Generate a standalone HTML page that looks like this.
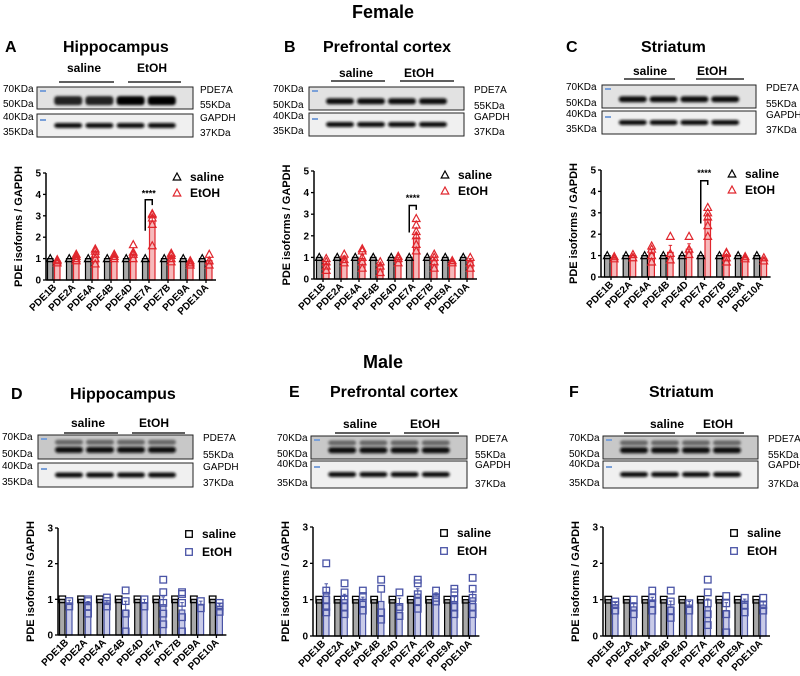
<!DOCTYPE html>
<html><head><meta charset="utf-8"><style>
body{margin:0;background:#fff;}
svg{display:block;font-family:"Liberation Sans",Arial,sans-serif;}
</style></head><body>
<svg id="fig" width="800" height="676" viewBox="0 0 800 676" xmlns="http://www.w3.org/2000/svg">
<defs><filter id="blur" x="-20%" y="-50%" width="140%" height="200%"><feGaussianBlur stdDeviation="1.3"/></filter></defs>
<text x="383" y="18" font-size="18" font-weight="bold" text-anchor="middle">Female</text>
<text x="383" y="368" font-size="18" font-weight="bold" text-anchor="middle">Male</text>
</svg>
<script>
// ---- data ----
const categories = ["PDE1B","PDE2A","PDE4A","PDE4B","PDE4D","PDE7A","PDE7B","PDE9A","PDE10A"];
const femaleTicks = [0,1,2,3,4,5];
const maleTicks = [0,1,2,3];
const salineMean = [1,1,1,1,1,1,1,1,1];
const etohMeanA = [0.9,1.05,1.2,1.1,1.2,2.75,1.05,0.85,0.9];
const etohMeanB = [0.7,0.95,0.95,0.6,0.9,1.9,0.85,0.8,0.8];
const etohMeanC = [0.88,1.0,1.1,1.15,1.3,2.7,0.95,0.9,0.85];
const etohMeanD = [0.9,0.85,0.9,0.7,0.9,0.85,0.7,0.85,0.8];
const etohMeanE = [1.2,1.0,0.95,0.95,0.85,1.15,1.1,0.95,1.05];
const etohMeanF = [0.85,0.8,0.95,0.8,0.85,0.8,0.7,0.9,0.85];
const etohPtsA = [[0.8,0.9,0.95],[0.9,1.1,1.2,1.0],[0.75,1.0,1.2,1.35,1.45],[1.0,1.2,1.1],[1.0,1.2,1.3,1.65],[1.6,2.6,2.9,3.05,3.1],[0.85,1.0,1.15,1.25],[0.7,0.8,0.9],[0.7,0.9,1.2]];
const etohPtsB = [[0.4,0.6,0.8,0.95],[0.75,0.9,1.15],[0.5,0.8,1.0,1.3,1.4],[0.3,0.6,0.8],[0.75,0.95,1.05],[1.3,1.6,2.0,2.2,2.5,2.8],[0.5,0.8,1.0,1.15],[0.75,0.85],[0.5,0.75,1.0]];
const etohPtsC = [[0.85,0.95],[0.9,1.05],[0.7,1.0,1.3,1.45],[0.8,1.1,1.9],[1.05,1.3,1.9],[1.9,2.4,2.8,3.0,3.25],[0.7,0.9,1.1,1.15],[0.85,0.95],[0.75,0.9]];
const etohPtsD = [[0.8,0.95],[0.6,0.8,0.95,1.0],[0.8,0.95,1.05],[0.1,0.6,0.95,1.25],[0.8,1.0],[0.3,0.6,0.9,1.2,1.55],[0.1,0.5,0.9,1.15,1.2],[0.75,0.95],[0.65,0.8,0.9]];
const etohPtsE = [[0.65,0.8,1.0,1.25,2.0],[0.6,0.8,1.0,1.2,1.45],[0.7,0.9,1.1,1.25],[0.45,0.65,1.3,1.55],[0.55,0.8,1.2],[0.75,0.95,1.15,1.45,1.55],[0.95,1.05,1.25],[0.6,0.8,1.0,1.2,1.3],[0.6,0.8,1.05,1.3,1.6]];
const etohPtsF = [[0.7,0.85,0.95],[0.6,0.8,1.0],[0.7,0.9,1.05,1.25],[0.5,0.7,0.95,1.25],[0.7,0.9],[0.3,0.6,0.9,1.2,1.55],[0.1,0.6,0.9,1.1],[0.65,0.85,1.05],[0.7,0.85,1.05]];
const sigBracket = {A:[2.3,3.75,3.5,4.1],B:[2.15,3.4,3.2,3.8],C:[2.5,4.5,4.3,4.9]};

const NS="http://www.w3.org/2000/svg";
const svg=document.getElementById('fig');
function mk(tag,attrs,parent,txt){const e=document.createElementNS(NS,tag);for(const k in attrs)e.setAttribute(k,attrs[k]);if(txt!==undefined)e.textContent=txt;(parent||svg).appendChild(e);return e;}

const panels=[
 {id:'A',region:'Hippocampus',female:true,letter:[5,52],title:[63,52],blot:{x1:37,x2:193,y1:87,y2:109,y3:114,y4:137,lx:3,rx:200,s:[67,59,114],e:[137,128,181],ly:72,lny:82},
  ch:{ax:46,top:173,bot:280,first:54,sp:19},mean:etohMeanA,pts:etohPtsA},
 {id:'B',region:'Prefrontal cortex',female:true,letter:[284,52],title:[323,52],blot:{x1:309,x2:464,y1:87,y2:110,y3:113,y4:136,lx:273,rx:474,s:[339,331,385],e:[404,400,454],ly:77,lny:81},
  ch:{ax:314,top:171,bot:279,first:323,sp:18},mean:etohMeanB,pts:etohPtsB},
 {id:'C',region:'Striatum',female:true,letter:[566,52],title:[641,52],blot:{x1:602,x2:756,y1:85,y2:108,y3:111,y4:134,lx:566,rx:766,s:[633,624,675],e:[697,696,744],ly:75,lny:79},
  ch:{ax:601,top:170,bot:277,first:611,sp:18.7},mean:etohMeanC,pts:etohPtsC},
 {id:'D',region:'Hippocampus',female:false,letter:[11,399],title:[70,399],blot:{x1:38,x2:193,y1:435,y2:459,y3:463,y4:487,lx:2,rx:203,s:[71,64,118],e:[139,132,185],ly:427,lny:433},
  ch:{ax:58,top:528,bot:635,first:66,sp:18.8},mean:etohMeanD,pts:etohPtsD},
 {id:'E',region:'Prefrontal cortex',female:false,letter:[289,397],title:[330,397],blot:{x1:311,x2:467,y1:436,y2:459,y3:461,y4:488,lx:277,rx:475,s:[343,335,390],e:[410,404,459],ly:428,lny:433},
  ch:{ax:313,top:527,bot:636,first:323,sp:18.3},mean:etohMeanE,pts:etohPtsE},
 {id:'F',region:'Striatum',female:false,letter:[569,397],title:[649,397],blot:{x1:603,x2:758,y1:436,y2:459,y3:461,y4:488,lx:569,rx:768,s:[650,624,675],e:[703,696,744],ly:428,lny:433},
  ch:{ax:603,top:527,bot:636,first:612,sp:18.5},mean:etohMeanF,pts:etohPtsF}
];

function blotBands(g,b,yc,th,dark){
  const w=b.x2-b.x1;
  [0.2,0.4,0.6,0.8].forEach((f,i)=>{
    const band=mk('rect',{x:b.x1+w*f-14,y:yc-th/2,width:28,height:th,rx:3,fill:dark[i],filter:'url(#blur)'},g);
    
    
  });
}

function drawMarker(parent,x,y,col,tri,name){
  let m;
  if(tri){
    m=mk('path',{d:`M${x},${y-4} L${x+3.8},${y+3} L${x-3.8},${y+3} Z`,fill:'none',stroke:col,'stroke-width':1.2},parent);
  }else{
    m=mk('rect',{x:x-3.3,y:y-3.3,width:6.6,height:6.6,fill:'none',stroke:col,'stroke-width':1.3},parent);
  }
  
  
}

panels.forEach(p=>{
  const g=mk('g',{});
  
  
  const L=mk('text',{x:p.letter[0],y:p.letter[1],'font-size':16,'font-weight':'bold'},g,p.id);
  
  
  const T=mk('text',{x:p.title[0],y:p.title[1],'font-size':16,'font-weight':'bold'},g,p.region);
  
  
  const b=p.blot;
  const s1=mk('text',{x:b.s[0],y:b.ly,'font-size':12,'font-weight':'bold'},g,'saline');
  
  
  const e1=mk('text',{x:b.e[0],y:b.ly,'font-size':12,'font-weight':'bold'},g,'EtOH');
  
  
  mk('line',{x1:b.s[1],x2:b.s[2],y1:b.lny,y2:b.lny,stroke:'#000','stroke-width':1.3},g);
  mk('line',{x1:b.e[1],x2:b.e[2],y1:b.lny,y2:b.lny,stroke:'#000','stroke-width':1.3},g);
  const bg1=mk('rect',{x:b.x1,y:b.y1,width:b.x2-b.x1,height:b.y2-b.y1,fill:p.female?'#e2e2e2':'#c8c8c8',stroke:'#222','stroke-width':1},g);
  
  
  const bg2=mk('rect',{x:b.x1,y:b.y3,width:b.x2-b.x1,height:b.y4-b.y3,fill:'#f0f0f0',stroke:'#222','stroke-width':1},g);
  
  
  const h1=b.y2-b.y1;
  if(!p.female) blotBands(g,b,b.y1+h1*0.3,5,['#666','#666','#666','#666']);
  blotBands(g,b,b.y1+h1*0.62,p.id==='A'?9:6,p.id==='A'?['#222','#222','#000','#000']:['#111','#111','#111','#111']);
  blotBands(g,b,b.y3+(b.y4-b.y3)*0.5,5,['#111','#111','#111','#111']);
  mk('rect',{x:b.x1+3,y:b.y1+3,width:6,height:2,fill:'#7aa0d8'},g);
  mk('rect',{x:b.x1+3,y:b.y3+5,width:6,height:2,fill:'#7aa0d8'},g);
  const yl=[b.y1+5,b.y2-2,b.y3+6,b.y4-2], lt=['70KDa','50KDa','40KDa','35KDa'], rt=['PDE7A','55KDa','GAPDH','37KDa'];
  yl.forEach((y,i)=>{
    const a=mk('text',{x:b.lx,y:y,'font-size':10},g,lt[i]);
    
    
    const c=mk('text',{x:b.rx,y:y+1,'font-size':10},g,rt[i]);
    
    
  });

  const c=p.ch, ticks=p.female?femaleTicks:maleTicks, ymax=ticks[ticks.length-1];
  const yS=v=>c.bot-(v/ymax)*(c.bot-c.top);
  const xS=i=>c.first+i*c.sp;
  const cg=mk('g',{},g);
  
  
  const red=p.female?'#e0262d':'#4a54a6', fillE=p.female?'#f6b9bb':'#c9cbe8';
  categories.forEach((cat,i)=>{
    const cx=xS(i);
    const sb=mk('rect',{x:cx-6.5,y:yS(salineMean[i]),width:5.5,height:c.bot-yS(salineMean[i]),fill:'#a9a9a9',stroke:'#000','stroke-width':1.2},cg);
    
    
    const eb=mk('rect',{x:cx+0.5,y:yS(p.mean[i]),width:5.5,height:c.bot-yS(p.mean[i]),fill:fillE,stroke:red,'stroke-width':1.2},cg);
    
    
    const pts=p.pts[i], m=pts.reduce((a,b)=>a+b,0)/pts.length;
    const sd=Math.sqrt(pts.reduce((a,b)=>a+(b-m)*(b-m),0)/Math.max(1,pts.length-1))/Math.sqrt(pts.length);
    mk('line',{x1:cx+3.25,x2:cx+3.25,y1:yS(p.mean[i]),y2:yS(p.mean[i]+sd),stroke:red,'stroke-width':1},cg);
    mk('line',{x1:cx+1.5,x2:cx+5,y1:yS(p.mean[i]+sd),y2:yS(p.mean[i]+sd),stroke:red,'stroke-width':1},cg);
    drawMarker(cg,cx-3.75,yS(salineMean[i]),'#000',p.female,'point-saline');
    pts.forEach(v=>drawMarker(cg,cx+3.25,yS(v),red,p.female,'point-etoh'));
    mk('line',{x1:cx,x2:cx,y1:c.bot,y2:c.bot+3,stroke:'#000','stroke-width':1.3},cg);
    const xl=mk('text',{x:cx+3,y:c.bot+8,'font-size':10,'font-weight':'bold','text-anchor':'end',transform:`rotate(-45 ${cx+3} ${c.bot+8})`},cg,cat);
    
    
  });
  const xEnd=xS(categories.length-1)+10;
  const xa=mk('line',{x1:c.ax,x2:xEnd,y1:c.bot,y2:c.bot,stroke:'#000','stroke-width':1.5},cg);
  
  
  const ya=mk('line',{x1:c.ax,x2:c.ax,y1:c.top,y2:c.bot,stroke:'#000','stroke-width':1.5},cg);
  
  
  ticks.forEach(t=>{
    mk('line',{x1:c.ax-3,x2:c.ax,y1:yS(t),y2:yS(t),stroke:'#000','stroke-width':1.3},cg);
    const tl=mk('text',{x:c.ax-5,y:yS(t)+3.5,'font-size':10,'font-weight':'bold','text-anchor':'end'},cg,String(t));
    
    
  });
  const ym=(c.top+c.bot)/2, yx=c.ax-24;
  const yt=mk('text',{x:yx,y:ym,'font-size':11,'font-weight':'bold','text-anchor':'middle',transform:`rotate(-90 ${yx} ${ym})`},cg,'PDE isoforms / GAPDH');
  
  
  const ly1=c.top+(p.female?4:6), ly2=c.top+(p.female?20:24);
  const lg=mk('g',{},cg);
  
  
  drawMarker(lg,c.ax+131,ly1,'#000',p.female,'legend-marker-saline');
  drawMarker(lg,c.ax+131,ly2,red,p.female,'legend-marker-etoh');
  const l1=mk('text',{x:c.ax+144,y:ly1+4,'font-size':12,'font-weight':'bold'},lg,'saline');
  
  
  const l2=mk('text',{x:c.ax+144,y:ly2+4,'font-size':12,'font-weight':'bold'},lg,'EtOH');
  
  
  const sb=sigBracket[p.id];
  if(sb){
    const xs=xS(5)-3.75, xe=xS(5)+3.25;
    const br=mk('path',{d:`M${xs},${yS(sb[0])} V${yS(sb[1])} H${xe} V${yS(sb[2])}`,fill:'none',stroke:'#000','stroke-width':1.5},cg);
    
    
    const st=mk('text',{x:(xs+xe)/2,y:yS(sb[3])+4,'font-size':9,'font-weight':'bold','text-anchor':'middle'},cg,'****');
    
    
  }
});
</script>
</body></html>
